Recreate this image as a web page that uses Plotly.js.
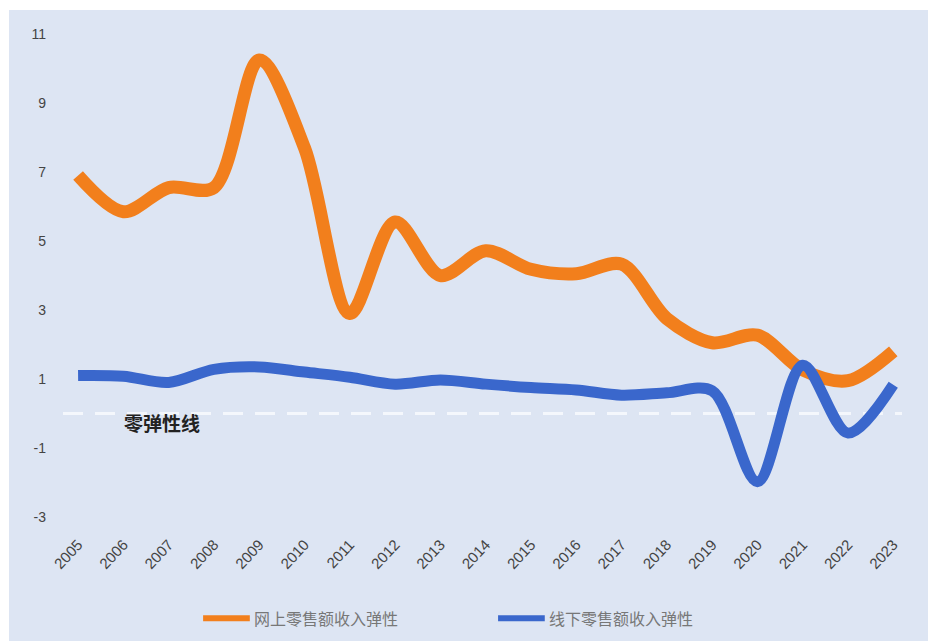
<!DOCTYPE html>
<html>
<head>
<meta charset="utf-8">
<script src="https://cdn.plot.ly/plotly-3.0.1.min.js"></script>
<style>
  html, body { margin: 0; padding: 0; background: #ffffff; }
  #chart { position: absolute; left: 9px; top: 10px; width: 919px; height: 631px; }
</style>
</head>
<body>
<div id="chart"></div>
<script>
const years = [2005, 2006, 2007, 2008, 2009, 2010, 2011, 2012, 2013, 2014, 2015, 2016, 2017, 2018, 2019, 2020, 2021, 2022, 2023];
const onlineElasticity = [6.9, 5.85, 6.55, 6.55, 10.25, 7.7, 2.9, 5.55, 4.0, 4.72, 4.18, 4.05, 4.33, 2.75, 2.05, 2.27, 1.26, 0.95, 1.8];
const offlineElasticity = [1.1, 1.08, 0.9, 1.28, 1.35, 1.2, 1.05, 0.85, 0.97, 0.85, 0.75, 0.68, 0.53, 0.6, 0.66, -1.98, 1.4, -0.57, 0.83];
const yTicks = [11, 9, 7, 5, 3, 1, -1, -3];
const onlineName = '网上零售额收入弹性';
const offlineName = '线下零售额收入弹性';
const zeroLabel = '零弹性线';

const font = '"Noto Sans CJK SC", "Noto Sans", sans-serif';
const numFont = '"Liberation Sans", Arial, sans-serif';
const orange = '#f27f1c';
const blue = '#3a67cc';

const traces = [
  {
    x: years, y: onlineElasticity, name: onlineName, type: 'scatter', mode: 'lines',
    line: { color: orange, width: 13, shape: 'spline', smoothing: 0.9 }
  },
  {
    x: years, y: offlineElasticity, name: offlineName, type: 'scatter', mode: 'lines',
    line: { color: blue, width: 11, shape: 'spline', smoothing: 0.9 }
  }
];

// custom legend (paper coordinates)
const legY = -0.173;
const legend = [
  { name: onlineName, color: orange, x0: 0.177, x1: 0.231 },
  { name: offlineName, color: blue, x0: 0.518, x1: 0.572 }
];

const layout = {
  width: 919, height: 631,
  paper_bgcolor: '#dde5f3',
  plot_bgcolor: 'rgba(0,0,0,0)',
  margin: { l: 41, r: 13, t: 10, b: 111 },
  font: { family: font, color: '#444' },
  showlegend: false,
  xaxis: {
    range: [2004.38, 2023.48],
    tickvals: years, ticktext: years.map(String),
    tickangle: -47,
    showgrid: false, zeroline: false, showline: false, ticks: '',
    ticklabelstandoff: 2,
    tickfont: { size: 15, color: '#444', family: numFont }
  },
  yaxis: {
    range: [-3.38, 11.41],
    tickvals: yTicks, ticktext: yTicks.map(String),
    showgrid: false, zeroline: false, showline: false, ticks: '',
    ticklabelstandoff: 3,
    tickfont: { size: 14, color: '#444', family: numFont }
  },
  shapes: [
    {
      type: 'line', xref: 'paper', yref: 'y', x0: 0.015, x1: 0.985, y0: 0, y1: 0,
      line: { color: '#f4f7fc', width: 3, dash: '20px,12px' }, layer: 'below'
    }
  ].concat(legend.map(l => ({
    type: 'line', xref: 'paper', yref: 'paper', x0: l.x0, x1: l.x1, y0: legY, y1: legY,
    line: { color: l.color, width: 6 }
  }))),
  annotations: [
    {
      x: 2006.85, y: -0.27, xref: 'x', yref: 'y', text: '<b>' + zeroLabel + '</b>',
      showarrow: false, font: { size: 19, color: '#222', family: font }
    }
  ].concat(legend.map(l => ({
    x: l.x1 + 0.002, y: legY, xref: 'paper', yref: 'paper', xanchor: 'left', yanchor: 'middle',
    text: l.name, showarrow: false, font: { size: 16, color: '#777', family: font }
  })))
};

Plotly.newPlot('chart', traces, layout, { displayModeBar: false, staticPlot: true });
</script>
</body>
</html>
